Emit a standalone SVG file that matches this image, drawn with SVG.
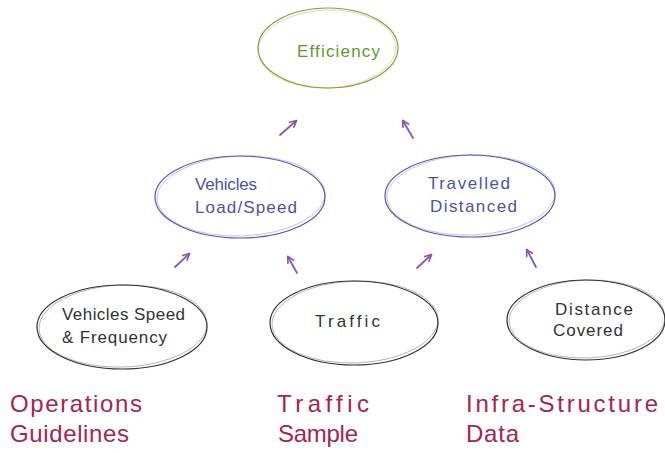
<svg xmlns="http://www.w3.org/2000/svg" width="665" height="453" viewBox="0 0 665 453">
<defs>
<style>
.bg{fill:#ffffff}
.el{fill:none;stroke-width:1.2;stroke-linecap:round}
.el2{fill:none;stroke-width:0.8;opacity:0.45}
.green{stroke:#8a9e33}
.blue{stroke:#5257bd}
.dark{stroke:#333333}
.t{font-family:"Liberation Sans","Open Sans",sans-serif;font-size:17px}
.tg{fill:#62982c}
.tb{fill:#4d52a8}
.td{fill:#333333}
.lbl{font-family:"Liberation Sans","Open Sans",sans-serif;font-size:24px;fill:#a8234f}
.arr{stroke:#8a56b0;stroke-width:1.8;fill:none;stroke-linecap:round}
</style>
<marker id="ah" viewBox="0 0 10 10" refX="8" refY="5" markerWidth="4.5" markerHeight="4.5" orient="auto" markerUnits="strokeWidth">
<path d="M1,1 L9,5 L1,9" fill="none" stroke="#8a56b0" stroke-width="2" stroke-linecap="round" stroke-linejoin="round"/>
</marker>
</defs>
<rect class="bg" x="0" y="0" width="665" height="453"/>

<g id="efficiency">
<ellipse class="el green" cx="328" cy="48" rx="70" ry="40"/>
<ellipse class="el2 green" cx="327" cy="49" rx="69" ry="39" transform="rotate(-2 327 49)"/>
<text class="t tg" x="297" y="57" textLength="83" lengthAdjust="spacing">Efficiency</text>
</g>

<g id="vehicles-load-speed">
<ellipse class="el blue" cx="240" cy="197" rx="85" ry="41"/>
<ellipse class="el2 blue" cx="241" cy="196" rx="84" ry="40" transform="rotate(-2 241 196)"/>
<text class="t tb" x="195" y="190" textLength="62" lengthAdjust="spacing">Vehicles</text>
<text class="t tb" x="195" y="213" textLength="102" lengthAdjust="spacing">Load/Speed</text>
</g>

<g id="travelled-distanced">
<ellipse class="el blue" cx="470" cy="196" rx="85" ry="41"/>
<ellipse class="el2 blue" cx="471" cy="195" rx="84" ry="40" transform="rotate(-2 471 195)"/>
<text class="t tb" x="428" y="189" textLength="82" lengthAdjust="spacing">Travelled</text>
<text class="t tb" x="430" y="212" textLength="87" lengthAdjust="spacing">Distanced</text>
</g>

<g id="vehicles-speed-frequency">
<ellipse class="el dark" cx="122" cy="327" rx="85" ry="42"/>
<ellipse class="el2 dark" cx="123" cy="326" rx="84" ry="41" transform="rotate(-2 123 326)"/>
<text class="t td" x="62" y="320" textLength="123" lengthAdjust="spacing">Vehicles Speed</text>
<text class="t td" x="62" y="343" textLength="105" lengthAdjust="spacing">&amp; Frequency</text>
</g>

<g id="traffic">
<ellipse class="el dark" cx="354" cy="323" rx="84" ry="42"/>
<ellipse class="el2 dark" cx="355" cy="322" rx="83" ry="41" transform="rotate(-2 355 322)"/>
<text class="t td" x="315" y="327" textLength="65" lengthAdjust="spacing">Traffic</text>
</g>

<g id="distance-covered">
<ellipse class="el dark" cx="586" cy="320" rx="79" ry="40"/>
<ellipse class="el2 dark" cx="587" cy="319" rx="78" ry="39" transform="rotate(-2 587 319)"/>
<text class="t td" x="555" y="315" textLength="78" lengthAdjust="spacing">Distance</text>
<text class="t td" x="553" y="336" textLength="70" lengthAdjust="spacing">Covered</text>
</g>

<g id="connectors">
<line class="arr" x1="280" y1="135" x2="296" y2="121" marker-end="url(#ah)"/>
<line class="arr" x1="413" y1="138" x2="403" y2="121" marker-end="url(#ah)"/>
<line class="arr" x1="175" y1="267" x2="189" y2="254" marker-end="url(#ah)"/>
<line class="arr" x1="297" y1="273" x2="288" y2="257" marker-end="url(#ah)"/>
<line class="arr" x1="417" y1="268" x2="431" y2="255" marker-end="url(#ah)"/>
<line class="arr" x1="536" y1="267" x2="527" y2="250" marker-end="url(#ah)"/>
</g>

<g id="labels">
<text class="lbl" x="10" y="412" textLength="132" lengthAdjust="spacing">Operations</text>
<text class="lbl" x="10" y="442" textLength="119" lengthAdjust="spacing">Guidelines</text>
<text class="lbl" x="277" y="412" textLength="92" lengthAdjust="spacing">Traffic</text>
<text class="lbl" x="278" y="442" textLength="80" lengthAdjust="spacing">Sample</text>
<text class="lbl" x="466" y="412" textLength="192" lengthAdjust="spacing">Infra-Structure</text>
<text class="lbl" x="466" y="442" textLength="53" lengthAdjust="spacing">Data</text>
</g>
</svg>
